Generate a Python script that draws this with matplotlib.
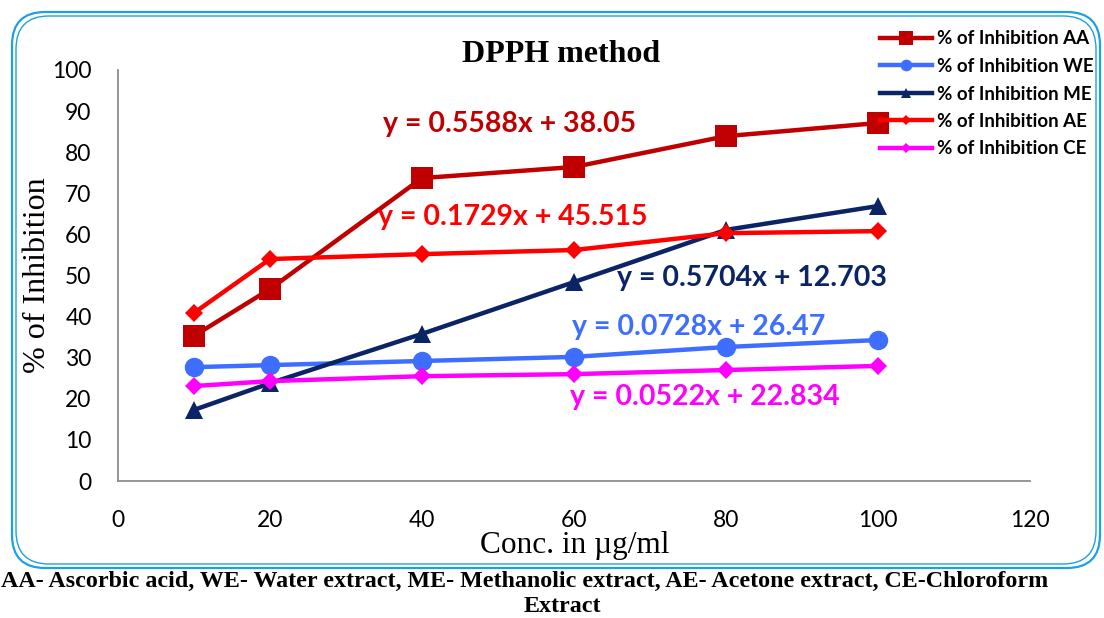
import matplotlib
matplotlib.use("Agg")
import matplotlib.pyplot as plt
from matplotlib.patches import FancyBboxPatch

conc = [10, 20, 40, 60, 80, 100]
aa = [35.3, 46.7, 73.7, 76.4, 83.9, 87.1]
we = [27.7, 28.2, 29.2, 30.2, 32.6, 34.3]
me = [17.3, 23.8, 35.8, 48.4, 61.1, 66.9]
ae = [40.9, 54.0, 55.2, 56.2, 60.3, 60.8]
ce = [23.1, 24.3, 25.5, 26.0, 27.0, 28.0]
labels = ["% of Inhibition AA", "% of Inhibition WE", "% of Inhibition ME",
          "% of Inhibition AE", "% of Inhibition CE"]
equations = ["y = 0.5588x + 38.05", "y = 0.0728x + 26.47", "y = 0.5704x + 12.703",
             "y = 0.1729x + 45.515", "y = 0.0522x + 22.834"]
xticks = [0, 20, 40, 60, 80, 100, 120]
yticks = [0, 10, 20, 30, 40, 50, 60, 70, 80, 90, 100]

SANS = "Lato"
SERIF = "Liberation Serif"

fig = plt.figure(figsize=(11.04, 6.18), dpi=100)
fig.patch.set_facecolor("white")

# frame
for off, lw in [(0.0, 1.6), (4.0, 1.0)]:
    x0 = (12 + off) / 1104
    y0 = 1 - (568 - off) / 618
    w = (1100 - 12 - 2 * off) / 1104
    h = (568 - 12 - 2 * off) / 618
    p = FancyBboxPatch((x0, y0), w, h, boxstyle="round,pad=0,rounding_size=0.03",
                       transform=fig.transFigure, fill=False, edgecolor="#1DA1E2",
                       linewidth=lw, mutation_aspect=1104 / 618)
    fig.patches.append(p)

ax = fig.add_axes([118 / 1104, 1 - 481 / 618, (1030 - 118) / 1104, (481 - 70) / 618])
ax.set_facecolor("none")

series = [
    (aa, "#C00000", "s", 16),
    (we, "#3E6EFF", "o", 14),
    (me, "#0B2466", "^", 13),
    (ae, "#FF0000", "D", 9),
    (ce, "#FF00FF", "D", 9),
]
handles = []
for (vals, col, mk, ms), lab in zip(series, labels):
    h, = ax.plot(conc, vals, color=col, marker=mk, markersize=ms, linewidth=3.2,
                 label=lab, markeredgewidth=0)
    handles.append(h)

ax.set_xlim(0, 120)
ax.set_ylim(0, 100)
ax.set_xticks(xticks)
ax.set_yticks(yticks)
ax.tick_params(length=0, labelsize=16.5)
ax.tick_params(axis="y", pad=19)
ax.tick_params(axis="x", pad=21)
for t in ax.get_xticklabels() + ax.get_yticklabels():
    t.set_fontfamily(SANS)
for s in ["top", "right"]:
    ax.spines[s].set_visible(False)
for s in ["left", "bottom"]:
    ax.spines[s].set_color("#8C8C8C")
    ax.spines[s].set_linewidth(1.3)

# equations
eq_pos = [(34.9, 86.9), (59.7, 37.5), (65.7, 49.4), (34.2, 64.2), (59.5, 20.4)]
for eq, (ex, ey), (_, col, _, _) in zip(equations, eq_pos, series):
    ax.text(ex, ey, eq, color=col, fontsize=20.5, fontweight="bold", family=SANS,
            ha="left", va="center")

fig.text(561 / 1104, 1 - 55 / 618, "DPPH method", ha="center", va="center",
         fontsize=23, fontweight="bold", family=SERIF)
fig.text(38 / 1104, 1 - 275 / 618, "% of Inhibition", rotation=90, ha="center",
         va="center", fontsize=23, family=SERIF)
fig.text(575 / 1104, 1 - 545 / 618, "Conc. in µg/ml", ha="center", va="center",
         fontsize=22.5, family=SERIF)

leg = fig.legend(handles=handles, loc="upper left",
                 bbox_to_anchor=(872 / 1104, 1 - 23 / 618), frameon=False,
                 prop={"family": SANS, "weight": "bold", "size": 13.5},
                 handlelength=2.8, handletextpad=0.25, labelspacing=0.56,
                 borderaxespad=0, markerscale=0.6)

fig.text(525 / 1104, 1 - 581 / 618,
         "AA- Ascorbic acid, WE- Water extract, ME- Methanolic extract, AE- Acetone extract, CE-Chloroform",
         ha="center", va="center", fontsize=17.3, fontweight="bold", family=SERIF)
fig.text(562 / 1104, 1 - 607 / 618, "Extract", ha="center", va="center",
         fontsize=17.3, fontweight="bold", family=SERIF)

fig.savefig("out.png", dpi=100)
